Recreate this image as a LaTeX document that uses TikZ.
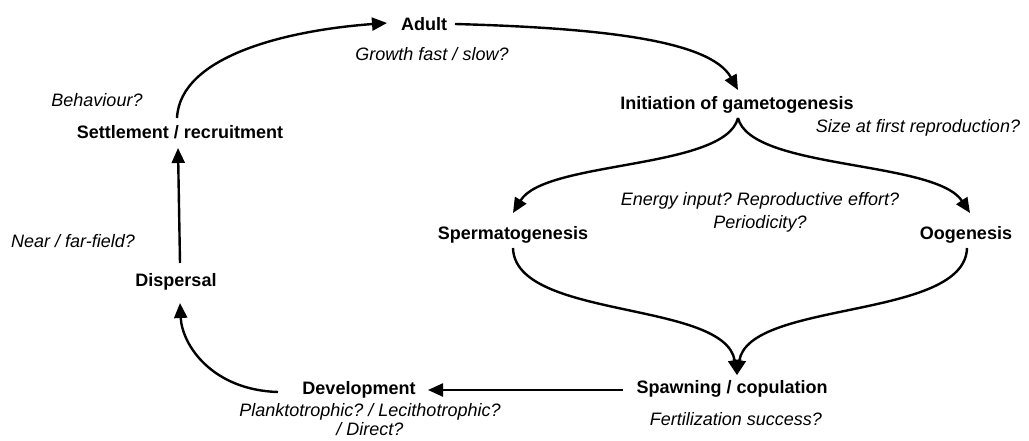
\documentclass[tikz,border=0pt]{standalone}
\usepackage{fontspec}
\setmainfont{Liberation Sans}
\usetikzlibrary{arrows.meta}
\frenchspacing
\begin{document}
\begin{tikzpicture}[x=1pt,y=-1pt,
  stage/.style={inner sep=0pt,font=\fontsize{18}{21}\selectfont\bfseries},
  quest/.style={inner sep=0pt,align=center,font=\fontsize{18}{23}\selectfont\itshape},
  arr/.style={line width=2.4pt,-{Triangle[length=15pt,width=13pt]}}]
\useasboundingbox (0,0) rectangle (1029,441);
% stages
\node[stage] (adult)  at (424,24)  {Adult};
\node[stage] (init)   at (737,105) {Initiation of gametogenesis};
\node[stage] (sperm)  at (513,235) {Spermatogenesis};
\node[stage] (oog)    at (966,235) {Oogenesis};
\node[stage] (spawn)  at (732,389) {Spawning / copulation};
\node[stage] (dev)    at (359,390) {Development};
\node[stage] (disp)   at (176,282) {Dispersal};
\node[stage] (settle) at (180,132) {Settlement / recruitment};
% questions
\node[quest] (growth) at (432,54)  {Growth fast / slow?};
\node[quest] (size)   at (918,128) {Size at first reproduction?};
\node[quest] (energy) at (760,212) {\frenchspacing Energy input? Reproductive effort?\\Periodicity?};
\node[quest] (fert)   at (736,419) {Fertilization success?};
\node[quest,font=\fontsize{18}{19}\selectfont\itshape] (plank) at (370,420) {\frenchspacing Planktotrophic? / Lecithotrophic?\\/ Direct?};
\node[quest] (near)   at (73,241)  {Near / far-field?};
\node[quest] (behav)  at (97,100)  {Behaviour?};
% connectors
\draw[arr] ([xshift=-3pt,yshift=14pt]settle.center) .. controls (180,55) and (290,30) .. ([xshift=-37pt,yshift=1pt]adult.center);
\draw[arr] ([xshift=31pt]adult.center) .. controls (600,28) and (710,40) .. ([xshift=1pt,yshift=15pt]init.center);
\draw[arr] ([xshift=1pt,yshift=-13pt]init.center) .. controls (725,170) and (545,160) .. ([yshift=22pt]sperm.center);
\draw[arr] ([xshift=1pt,yshift=-13pt]init.center) .. controls (751,170) and (935,160) .. ([xshift=4pt,yshift=22pt]oog.center);
\draw[arr] ([yshift=-13pt]sperm.center) .. controls (515,320) and (725,300) .. ([xshift=5pt,yshift=14pt]spawn.center);
\draw[arr] ([xshift=1pt,yshift=-13pt]oog.center) .. controls (965,320) and (749,300) .. ([xshift=5pt,yshift=14pt]spawn.center);
\draw[arr] ([xshift=-109pt,yshift=-1pt]spawn.center) -- ([xshift=69pt]dev.center);
\draw[arr] ([xshift=-81pt,yshift=-2pt]dev.center) .. controls (212,390) and (182,345) .. ([xshift=4pt,yshift=-21pt]disp.center);
\draw[arr] ([xshift=4pt,yshift=19pt]disp.center) -- ([xshift=-2pt,yshift=-16pt]settle.center);
\end{tikzpicture}
\end{document}
